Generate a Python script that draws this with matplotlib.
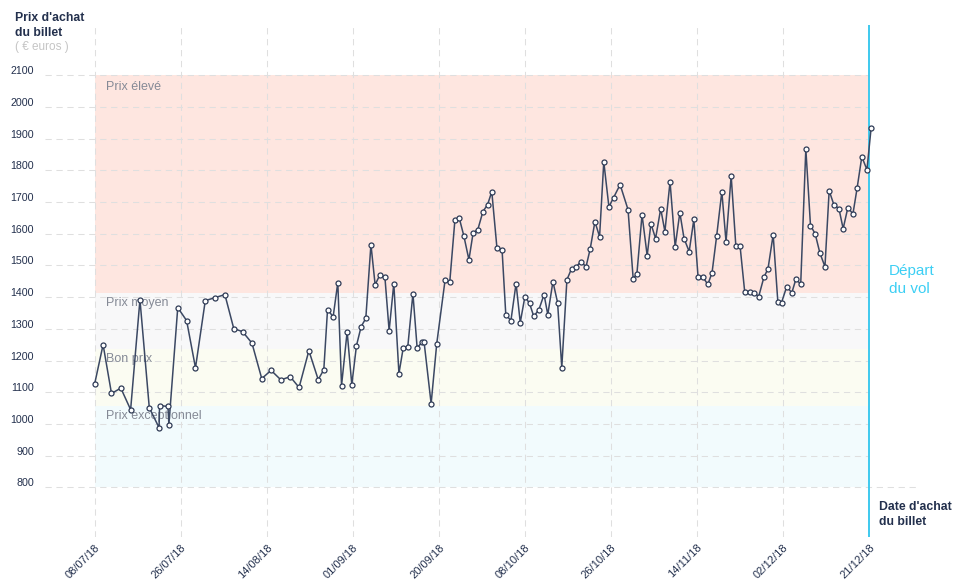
import matplotlib
matplotlib.use('Agg')
import matplotlib.pyplot as plt
import matplotlib.transforms as mtransforms
import numpy as np

plt.rcParams['font.family'] = ['Liberation Sans', 'DejaVu Sans']

# days after 08/07/18 and ticket price (euros)
days = [0.0, 1.8, 3.6, 5.6, 7.7, 9.7, 11.7, 13.8, 13.9, 15.7, 15.9, 17.8, 19.7, 21.6, 23.7,
        25.7, 27.9, 29.8, 31.7, 33.7, 35.8, 37.8, 39.9, 41.9, 43.8, 45.9, 47.9, 49.1, 49.9,
        51.1, 52.1, 52.9, 54.1, 55.1, 56.1, 57.1, 58.1, 59.2, 60.1, 61.1, 62.2, 63.1, 64.1,
        65.2, 66.1, 67.1, 68.2, 69.1, 70.1, 70.6, 72.1, 73.3, 75.1, 76.1, 77.2, 78.1, 79.1,
        80.2, 81.1, 82.1, 83.2, 84.2, 85.1, 86.2, 87.3, 88.1, 89.2, 90.3, 91.2, 92.2, 93.2,
        94.1, 95.2, 96.3, 97.1, 98.2, 99.2, 100.1, 101.2, 102.2, 103.2, 104.2, 105.3, 106.2,
        107.2, 108.2, 109.1, 110.2, 111.2, 112.6, 114.3, 115.4, 116.2, 117.3, 118.4, 119.2,
        120.2, 121.3, 122.2, 123.3, 124.4, 125.4, 126.3, 127.4, 128.4, 129.3, 130.4, 131.4,
        132.3, 133.3, 134.4, 135.3, 136.4, 137.4, 138.3, 139.3, 140.4, 141.3, 142.3, 143.4,
        144.3, 145.4, 146.4, 147.2, 148.3, 149.4, 150.3, 151.3, 152.4, 153.4, 154.4, 155.4,
        156.5, 157.4, 158.4, 159.5, 160.4, 161.4, 162.5, 163.4, 164.4, 165.5, 166.4]
prices = [1127, 1250, 1096, 1113, 1045, 1392, 1051, 988, 1058, 1055, 998, 1367, 1326, 1177, 1389,
          1398, 1408, 1301, 1291, 1255, 1143, 1169, 1139, 1149, 1115, 1231, 1140, 1171, 1361,
          1338, 1446, 1121, 1291, 1124, 1247, 1307, 1333, 1566, 1439, 1470, 1462, 1294, 1443,
          1159, 1238, 1244, 1411, 1240, 1257, 1257, 1064, 1253, 1455, 1449, 1644, 1651, 1594,
          1518, 1603, 1613, 1670, 1692, 1733, 1556, 1550, 1345, 1326, 1443, 1320, 1402, 1380,
          1339, 1361, 1408, 1345, 1449, 1383, 1178, 1455, 1490, 1496, 1512, 1496, 1553,
          1638, 1591, 1827, 1685, 1714, 1755, 1676, 1458, 1474, 1660, 1531, 1632,
          1585, 1679, 1607, 1764, 1559, 1667, 1585, 1544, 1645, 1465, 1462, 1440,
          1477, 1594, 1733, 1575, 1783, 1562, 1562, 1417, 1417, 1414, 1402, 1462,
          1490, 1597, 1386, 1383, 1433, 1414, 1458, 1440, 1868, 1626, 1600, 1540,
          1496, 1736, 1692, 1679, 1616, 1682, 1663, 1745, 1843, 1802, 1935]

tick_labels = ['08/07/18', '26/07/18', '14/08/18', '01/09/18', '20/09/18',
               '08/10/18', '26/10/18', '14/11/18', '02/12/18', '21/12/18']
departure_day = 166

band_edges = [800, 1055, 1237, 1412, 2100]
band_names = ['Prix exceptionnel', 'Bon prix', 'Prix moyen', 'Prix élevé']
band_colors = ['#f2fbfd', '#fbfcf2', '#f8f8f9', '#fee6e0']

y_ticks = list(range(800, 2101, 100))

navy = '#23304d'
grid_col = '#dfdfdf'

W, H = 958, 585
fig = plt.figure(figsize=(W / 100, H / 100), dpi=100)
# axes box in pixels: left 45, right 918, top 25, bottom 537
ax = fig.add_axes([45 / W, (H - 537) / H, 873 / W, 512 / H])
ax.set_xlim(-10.65, 176.44)
ax.set_ylim(643.2, 2258.7)
for s in ax.spines.values():
    s.set_visible(False)

# price bands
for lo, hi, c in zip(band_edges[:-1], band_edges[1:], band_colors):
    ax.fill_between([0, departure_day], lo, hi, color=c, lw=0, zorder=0)
for lo, hi, name in zip(band_edges[:-1], band_edges[1:], band_names):
    off = -12 if hi == band_edges[-1] else -10
    ax.annotate(name, (0, hi), xytext=(11, off), textcoords='offset pixels',
                fontsize=9, color='#858a96', va='center', ha='left', zorder=2)

# dashed grid
tick_pos = np.linspace(0, departure_day, len(tick_labels))
dash = (0, (6, 4.5))
for y in y_ticks:
    x1 = ax.get_xlim()[1] if y == y_ticks[0] else departure_day
    ax.hlines(y, ax.get_xlim()[0], x1, colors=grid_col, lw=0.75, linestyles=dash, zorder=1)
ax.vlines(tick_pos[:-1], *ax.get_ylim(), colors=grid_col, lw=0.75, linestyles=dash, zorder=1)

# departure line
ax.axvline(departure_day, color='#3ec9ee', lw=1.4, zorder=2)

# price line
ax.plot(days, prices, color='#3b4863', lw=1.1, marker='o', markersize=3.6,
        markerfacecolor='white', markeredgecolor='#2e3a55', markeredgewidth=0.9, zorder=3)

ax.set_xticks(tick_pos)
ax.set_xticklabels(tick_labels, rotation=45, ha='right', va='top',
                   rotation_mode='anchor', fontsize=8, color=navy)
ax.set_yticks(y_ticks)
ax.set_yticklabels([str(v) for v in y_ticks], fontsize=7.7, color=navy)
ax.tick_params(length=0)
ax.tick_params(axis='y', pad=8)
ax.tick_params(axis='x', pad=4)
shift = mtransforms.ScaledTranslation(0, 0.05, fig.dpi_scale_trans)
for lab in ax.get_yticklabels():
    lab.set_transform(lab.get_transform() + shift)

# titles
fig.text(15 / W, 1 - 12 / H, "Prix d'achat\ndu billet", fontsize=8.8, fontweight='bold',
         color=navy, va='top', ha='left', linespacing=1.3)
fig.text(15 / W, 1 - 47 / H, '( € euros )', fontsize=8.5, color='#c5c5c5', va='center', ha='left')
fig.text(879 / W, 1 - 501 / H, "Date d'achat\ndu billet", fontsize=8.8, fontweight='bold',
         color=navy, va='top', ha='left', linespacing=1.3)
fig.text(889 / W, 1 - 280 / H, 'Départ\ndu vol', fontsize=11, color='#3ccff4',
         va='center', ha='left', linespacing=1.35)

fig.savefig('out.png', dpi=100)
